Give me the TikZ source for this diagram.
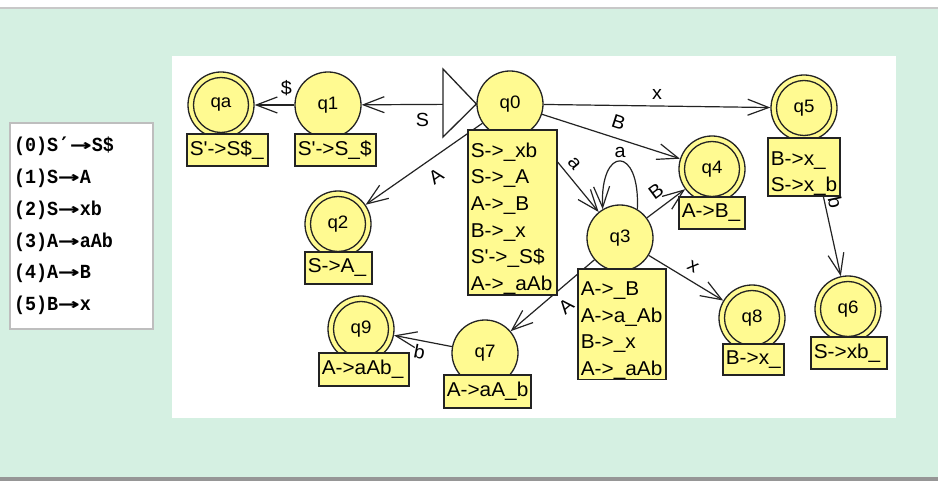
\documentclass[tikz,border=0pt]{standalone}
\usepackage{fontspec}
\usepackage{graphicx}
\usepackage{tikz}
\usetikzlibrary{arrows.meta}
\newfontfamily\jflapfont[FakeStretch=1.04]{Liberation Sans}
\newfontfamily\rulefont[FakeStretch=0.92]{Liberation Mono}
\newfontfamily\symfont{DejaVu Sans Mono}
\definecolor{panelgreen}{RGB}{213,240,226}
\definecolor{stateyellow}{RGB}{255,250,145}
\definecolor{inkgray}{RGB}{35,35,35}
\definecolor{framegray}{RGB}{190,190,190}
\definecolor{topline}{RGB}{200,200,200}
\definecolor{bottomline}{RGB}{150,150,150}
\newcommand{\prodto}{{\symfont\bfseries\scalebox{1.8}[1]{→}}}
\newcommand{\rprime}{{\symfont\bfseries ′}}
\newcommand{\nobreaks}{\exhyphenpenalty=10000 \hyphenpenalty=10000 \hfuzz=20pt \hbadness=10000 }
\newcommand{\topgap}{\rule{0pt}{27pt}}
\tikzset{
  jstate/.style={circle, draw=inkgray, fill=stateyellow, line width=1.3pt,
    minimum size=66pt, inner sep=0pt, font=\jflapfont\fontsize{18}{18}\selectfont},
  finalstate/.style={jstate, path picture={\draw[inkgray, line width=1.3pt]
    (path picture bounding box.center) circle (27.5pt);}},
  itembox/.style={rectangle, draw=inkgray, fill=stateyellow, line width=1.6pt,
    anchor=north west, inner xsep=3pt, inner ysep=0pt, align=left,
    font=\jflapfont\fontsize{20}{26.6}\selectfont\nobreaks},
  trans/.style={draw=inkgray, line width=1.2pt, -{Straight Barb[length=21pt,width=16pt]}},
  lbl/.style={font=\jflapfont\fontsize{19}{19}\selectfont, inner sep=2pt},
  rulebox/.style={rectangle, draw=framegray, fill=white, line width=2pt, anchor=north west,
    minimum height=206pt, text width=135pt, inner xsep=4pt, align=left,
    font=\rulefont\bfseries\fontsize{20}{31.8}\selectfont\nobreaks}
}
\begin{document}
\begin{tikzpicture}[x=1pt,y=-1pt]
\useasboundingbox (0,0) rectangle (938,481);
\fill[white] (0,0) rectangle (938,481);
\fill[panelgreen] (0,9) rectangle (938,477);
\fill[topline] (0,7) rectangle (938,9);
\fill[bottomline] (0,477) rectangle (938,481);
\fill[white] (172,56) rectangle (896,418);

\node[rulebox] (rules) at (9,122) {(0)S\rprime\prodto S\$\\(1)S\prodto A\\(2)S\prodto xb\\(3)A\prodto aAb\\(4)A\prodto B\\(5)B\prodto x};

\node[finalstate] (qa) at (221,105) {qa};
\node[jstate] (q1) at (328,105) {q1};
\node[jstate] (q0) at (510,104) {q0};
\node[finalstate] (q2) at (338,224) {q2};
\node[jstate] (q3) at (620,238) {q3};
\node[finalstate] (q4) at (712,169) {q4};
\node[finalstate] (q5) at (804,108) {q5};
\node[finalstate] (q6) at (848,309) {q6};
\node[jstate] (q7) at (485,353) {q7};
\node[finalstate] (q8) at (752,318) {q8};
\node[finalstate] (q9) at (361,329) {q9};

\draw[trans] (q0) -- node[lbl, below=6pt, pos=0.47]{S} (q1);
\draw[trans] (q1) -- node[lbl, above=7pt, pos=0.2]{\$} (qa);
\draw[trans] (q0) -- node[lbl, above=4pt]{x} (q5);
\draw[trans] (q0) -- node[lbl, sloped, above=7pt, pos=0.52]{B} (q4);
\draw[trans] (q0) -- node[lbl, sloped, above=4pt, pos=0.5]{a} (q3);
\draw[trans] (q0) -- node[lbl, sloped, below=8pt, pos=0.48]{A} (q2);
\draw[trans] (q3.59) .. controls +(3,-64) and +(-3,-64) .. node[lbl, above=1pt]{a} (q3.121);
\draw[trans] (q3) -- node[lbl, sloped, above=7pt, pos=0.49]{B} (q4);
\draw[trans] (q3) -- node[lbl, sloped, above=6pt, pos=0.5]{x} (q8);
\draw[trans] (q3) -- node[lbl, sloped, below=8pt, pos=0.47]{A} (q7);
\draw[trans] (q7) -- node[lbl, sloped, below=2pt, pos=0.52]{b} (q9);
\draw[trans] (q5) -- node[lbl, sloped, above=1pt, pos=0.47]{b} (q6);

\draw[inkgray, fill=white, line width=1.3pt] (443,69) -- (q0.west) -- (443,137) -- cycle;

\node[itembox, text width=75pt, minimum height=32pt] (bqa) at (186,133) {S\textquotesingle->S\$\_};
\node[itembox, text width=75pt, minimum height=32pt] (bq1) at (294,133) {S\textquotesingle->S\_\$};
\node[itembox, text width=83pt, minimum height=165pt] (bq0) at (467,129) {\topgap S->\_xb\\S->\_A\\A->\_B\\B->\_x\\S\textquotesingle->\_S\$\\A->\_aAb};
\node[itembox, text width=61pt, minimum height=32pt] (bq2) at (304,251) {S->A\_};
\node[itembox, text width=82pt, minimum height=110pt] (bq3) at (577,268) {\topgap A->\_B\\A->a\_Ab\\B->\_x\\A->\_aAb};
\node[itembox, text width=60pt, minimum height=32pt] (bq4) at (678,196) {A->B\_};
\node[itembox, text width=66pt, minimum height=58pt] (bq5) at (767,137) {\topgap B->x\_\\S->x\_b};
\node[itembox, text width=70pt, minimum height=32pt] (bq6) at (810,336) {S->xb\_};
\node[itembox, text width=81pt, minimum height=33pt] (bq7) at (443,374) {A->aA\_b};
\node[itembox, text width=55pt, minimum height=31pt] (bq8) at (722,343) {B->x\_};
\node[itembox, text width=84pt, minimum height=33pt] (bq9) at (318,352) {A->aAb\_};
\end{tikzpicture}
\end{document}
